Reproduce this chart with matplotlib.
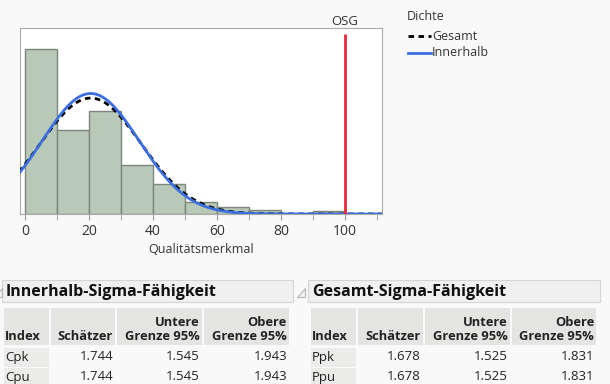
import numpy as np
import matplotlib.pyplot as plt
from matplotlib.patches import Rectangle, Polygon

plt.rcParams['font.family'] = ['Open Sans', 'DejaVu Sans']

# Histogramm (Klassenbreite 10)
bin_left = [0, 10, 20, 30, 40, 50, 60, 70, 80, 90]
counts = [110, 56, 69, 33, 20, 8, 5, 3, 0, 2]
bin_width = 10

# Spezifikation / Verteilungsparameter
usl = 100
mean = 20.5
cpk = 1.744
ppk = 1.678
sigma_within = (usl - mean) / (3 * cpk)
sigma_overall = (usl - mean) / (3 * ppk)

# Tabellen
header = ['Index', 'Schätzer', 'Untere\nGrenze 95%', 'Obere\nGrenze 95%']
within_rows = [['Cpk', '1.744', '1.545', '1.943'],
               ['Cpu', '1.744', '1.545', '1.943']]
overall_rows = [['Ppk', '1.678', '1.525', '1.831'],
                ['Ppu', '1.678', '1.525', '1.831']]

W, H = 610, 384
fig = plt.figure(figsize=(W / 100, H / 100), dpi=100, facecolor='#f9f9f9')

ax = fig.add_axes([20 / W, 1 - 214 / H, 362 / W, 186 / H])
ax.set_facecolor('white')
ax.bar(bin_left, counts, width=bin_width, align='edge', color='#b8c9b8',
       edgecolor='#7d857d', linewidth=1.0, zorder=2)

x = np.linspace(-2, 112, 600)
n = sum(counts)


def normal_curve(sigma):
    return n * bin_width / (sigma * np.sqrt(2 * np.pi)) * np.exp(-0.5 * ((x - mean) / sigma) ** 2)


ax.plot(x, normal_curve(sigma_overall), color='black', linestyle=(0, (2.0, 1.6)),
        linewidth=2.0, zorder=3)
ax.plot(x, normal_curve(sigma_within), color='#3b6fe0', linewidth=2.0, zorder=4)
ax.vlines(usl, 0, 120, color='#e8283c', linewidth=2.0, zorder=5)
ax.text(usl, 128.5, 'OSG', ha='center', va='center', fontsize=9.5, color='#333333')

ax.set_xlim(-1.6, 111.6)
ax.set_ylim(0, 124)
ax.set_yticks([])
ax.set_xticks(range(0, 111, 20))
ax.set_xticks(range(0, 111, 10), minor=True)
ax.tick_params(axis='x', which='both', length=4, color='#999999', labelsize=10,
               labelcolor='#333333', pad=3)
for s in ax.spines.values():
    s.set_color('#aaaaaa')
    s.set_linewidth(0.8)
ax.set_xlabel('Qualitätsmerkmal', fontsize=9, color='#333333', labelpad=3)

# Überlagerung in Pixelkoordinaten für Legende und Tabellen
ov = fig.add_axes([0, 0, 1, 1], zorder=-1)
ov.set_xlim(0, W)
ov.set_ylim(H, 0)
ov.axis('off')
ov.patch.set_alpha(0)

ov.text(407, 16, 'Dichte', fontsize=9, va='center', color='#333333')
ov.plot([408, 431], [36, 36], color='black', linestyle=(0, (2.0, 1.6)), linewidth=2)
ov.plot([408, 431], [53, 53], color='#3b6fe0', linewidth=2)
ov.text(432, 36, 'Gesamt', fontsize=9, va='center', color='#333333')
ov.text(432, 53, 'Innerhalb', fontsize=9, va='center', color='#333333')


def draw_table(x0, title, rows, col_edges):
    ov.add_patch(Rectangle((x0, 280), col_edges[-1] - x0 + 3, 22, facecolor='#f0f0f0',
                           edgecolor='#d4d4d4', linewidth=0.8))
    ov.text(x0 + 4, 291.5, title, fontsize=11.5, fontweight='bold', va='center', color='#111111')
    # Kopfzeile
    for i in range(4):
        ov.add_patch(Rectangle((col_edges[i] + 1, 308), col_edges[i + 1] - col_edges[i] - 2, 37,
                               facecolor='#e4e4e2', edgecolor='none'))
        lines = header[i].split('\n')
        if i == 0:
            ov.text(col_edges[i] + 2, 337, lines[-1], fontsize=9.3, fontweight='bold',
                    va='center', ha='left', color='#222222')
        else:
            for j, line in enumerate(reversed(lines)):
                ov.text(col_edges[i + 1] - 3, 337 - 15 * j, line, fontsize=9.3,
                        fontweight='bold', va='center', ha='right', color='#222222')
    # Datenzeilen
    for r, row in enumerate(rows):
        yc = 357 + 20 * r
        ov.add_patch(Rectangle((col_edges[0] + 1, yc - 9.5), col_edges[1] - col_edges[0] - 2, 19,
                               facecolor='#ebebe9', edgecolor='none'))
        ov.text(col_edges[0] + 2, yc, row[0], fontsize=9.5, va='center', ha='left', color='#222222')
        for i in range(1, 4):
            ov.text(col_edges[i + 1] - 3, yc, row[i], fontsize=9.5, va='center', ha='right',
                    color='#222222')


draw_table(2, 'Innerhalb-Sigma-Fähigkeit', within_rows, [3, 50, 116, 203, 290])
draw_table(308, 'Gesamt-Sigma-Fähigkeit', overall_rows, [310, 357, 424, 511, 597])

# Aufklapp-Dreiecke
ov.add_patch(Polygon([[297, 297], [305, 297], [305, 288]], closed=True, facecolor='#f2f2f2',
                     edgecolor='#b5b5b5', linewidth=0.8))
ov.add_patch(Polygon([[-6, 297], [2, 297], [2, 288]], closed=True, facecolor='#f2f2f2',
                     edgecolor='#b5b5b5', linewidth=0.8))

fig.savefig('out.png', dpi=100, facecolor=fig.get_facecolor())
